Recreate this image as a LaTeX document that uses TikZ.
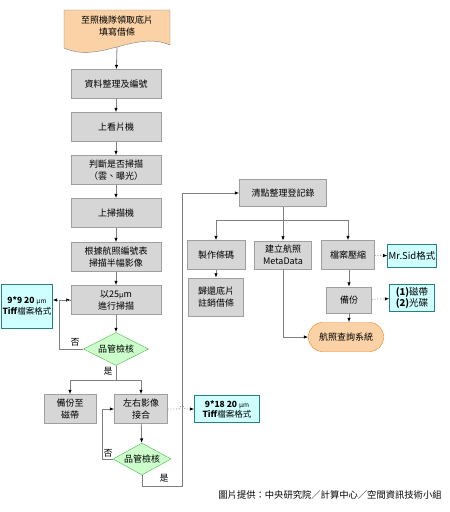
\documentclass[tikz,border=0pt]{standalone}
\usepackage{fontspec}
\setmainfont{Noto Sans CJK TC}
\usetikzlibrary{arrows.meta,shapes.geometric}
\definecolor{boxgray}{RGB}{214,214,214}
\definecolor{linegray}{RGB}{128,128,128}
\definecolor{peach}{RGB}{250,210,166}
\definecolor{mint}{RGB}{204,255,204}
\definecolor{aqua}{RGB}{208,255,255}
\begin{document}
\begin{tikzpicture}[x=1pt, y=-1pt,
        box/.style={rectangle, draw=gray!75, fill=boxgray, minimum height=29pt, inner sep=1pt, align=center, font=\fontsize{9}{12}\selectfont},
        check/.style={diamond, draw=green!40!gray, fill=mint, inner sep=0pt, aspect=2, font=\fontsize{9}{11}\selectfont},
        note/.style={rectangle, draw=teal!70!gray, fill=aqua, inner sep=1pt, align=center, font=\fontsize{8.5}{11}\selectfont},
        arrow/.style={-{Latex[length=4.5pt,width=3.5pt,color=black]}, draw=linegray, thick},
        dots/.style={-{Latex[length=4.5pt,width=3.5pt,color=black]}, draw=linegray, dotted, thick},
        tag/.style={font=\fontsize{9}{11}\selectfont}
    ]
        \useasboundingbox (0,0) rectangle (450,512);
        \draw[draw=linegray, fill=peach] (64,10) -- (170,10) -- (170,45) .. controls (135,30) and (100,64) .. (64,48) -- cycle;
        \node[align=center, font=\fontsize{9}{12}\selectfont] (borrow) at (117,26) {至照機隊領取底片\\填寫借條};
        \coordinate (borrowend) at (117,47);

        \node[box, minimum width=90pt] (sort) at (116,84) {資料整理及編號};
        \node[box, minimum width=90pt] (viewer) at (116,127) {上看片機};
        \node[box, minimum width=90pt] (judge) at (116,170) {判斷是否掃描\\（雲、曝光）};
        \node[box, minimum width=90pt] (scanner) at (116,213) {上掃描機};
        \node[box, minimum width=90pt] (half) at (116,257) {根據航照編號表\\掃描半幅影像};
        \node[box, minimum width=90pt] (scan) at (116,300) {以25{\fontsize{7}{8}\selectfont μ}m\\進行掃描};
        \node[check, minimum width=65pt, minimum height=33pt] (qca) at (116,349) {品管檢核};
        \node[note, minimum width=50pt, minimum height=44pt] (tiffa) at (27,306) {\textbf{9*9 20} {\fontsize{6.5}{8}\selectfont μm}\\\textbf{Tiff}檔案格式};

        \node[box, minimum width=52pt] (tape) at (70,409) {備份至\\磁帶};
        \node[box, minimum width=53pt] (merge) at (141,409) {左右影像\\接合};
        \node[check, minimum width=58pt, minimum height=32pt] (qcb) at (142,459) {品管檢核};
        \node[note, minimum width=65pt, minimum height=27pt, font=\fontsize{8.5}{10}\selectfont] (tiffb) at (227,409) {\textbf{9*18 20} {\fontsize{6.5}{8}\selectfont μm}\\\textbf{Tiff}檔案格式};

        \node[box, minimum width=87pt, minimum height=27pt] (clean) at (283,193) {清點整理登記錄};
        \node[box, minimum width=58pt] (barcode) at (216,255) {製作條碼};
        \node[box, minimum width=57pt, minimum height=28pt] (meta) at (283,255) {建立航照\\MetaData};
        \node[box, minimum width=53pt] (zip) at (348,255) {檔案壓縮};
        \node[box, minimum width=55pt, minimum height=38pt] (return) at (216,297) {歸還底片\\註銷借條};
        \node[box, minimum width=45pt, minimum height=26pt] (backup) at (349,300) {備份};
        \node[note, minimum width=45pt, minimum height=23pt, font=\fontsize{9.5}{11}\selectfont] (mrsid) at (412,256) {Mr.Sid格式};
        \node[note, minimum width=45pt, minimum height=27pt, font=\fontsize{9.5}{11}\selectfont] (media) at (412,298) {\textbf{(1)}磁帶\\\textbf{(2)}光碟};
        \node[rectangle, rounded corners=14pt, draw=orange!70!brown, fill=peach, minimum width=75pt, minimum height=29pt, font=\fontsize{9}{11}\selectfont] (query) at (346,337) {航照查詢系統};

        \draw[arrow] (borrowend) -- (sort);
        \draw[arrow] (sort) -- (viewer);
        \draw[arrow] (viewer) -- (judge);
        \draw[arrow] (judge) -- (scanner);
        \draw[arrow] (scanner) -- (half);
        \draw[arrow] (half) -- (scan);
        \draw[arrow] (scan) -- (qca);
        \draw[arrow] (qca.west) -- (59,349) |- (scan.west);
        \draw[dots] (scan.west) -- (tiffa.east |- scan.west);
        \draw[arrow] (qca.south) -- (116,380) -| (tape);
        \draw[arrow] (qca.south) -- (116,380) -| (merge);
        \draw[arrow] (merge) -- (qcb);
        \draw[arrow] (qcb.west) -- (102,459) |- (merge.west);
        \draw[dots] (merge.east) -- (179,409) arc (180:360:3) -- (tiffb.west);
        \draw[arrow] (qcb.south) -- (142,486) -| (182,193) -- (clean.west);
        \draw[arrow] (clean.south) -- (283,220) -| (barcode);
        \draw[arrow] (clean.south) -- (meta);
        \draw[arrow] (clean.south) -- (283,220) -| (zip);
        \draw[arrow] (barcode) -- (return);
        \draw[arrow] (meta.south) |- (query.west);
        \draw[dots] (zip) -- (mrsid);
        \draw[arrow] (zip.south -| backup) -- (backup);
        \draw[dots] (backup) -- (media);
        \draw[arrow] (backup) -- (query.north -| backup);

        \node[tag] (noa) at (75,342) {否};
        \node[tag] (yesa) at (108,371) {是};
        \node[tag] (nob) at (108,453) {否};
        \node[tag] (yesb) at (164,478) {是};
        \node[font=\fontsize{9.3}{11}\selectfont] (credit) at (330,495) {圖片提供：中央研究院／計算中心／空間資訊技術小組};
    \end{tikzpicture}
\end{document}
